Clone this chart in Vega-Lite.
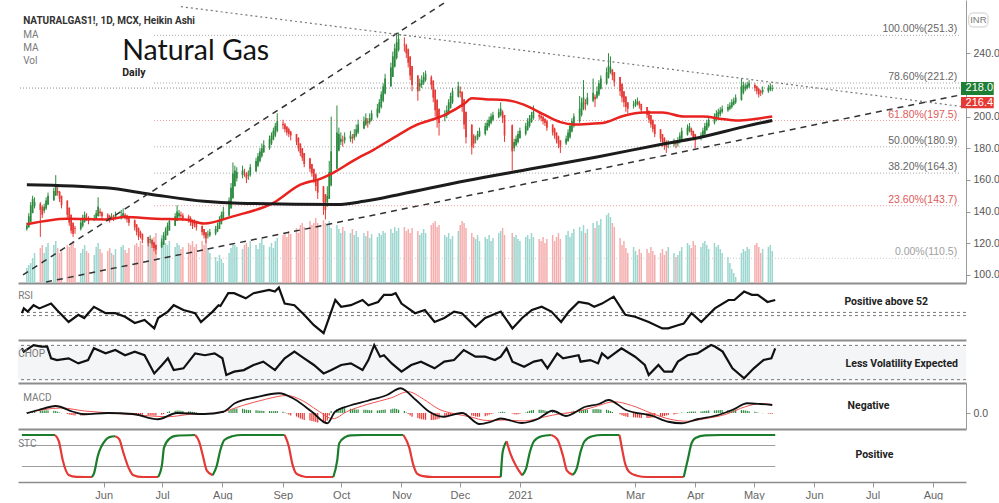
{
"$schema":"https://vega.github.io/schema/vega-lite/v6.json",
"padding":{"left":17,"top":0,"right":0,"bottom":0},
"background":"#ffffff",
"spacing":0,
"bounds":"flush",
"resolve":{"scale":{"x":"independent","y":"independent","color":"independent"}},
"config":{
 "view":{"stroke":null},
 "axis":{"grid":false,"labelColor":"#555555","labelFont":"Liberation Sans","labelFontSize":10.5,"domainColor":"#9a9a9a","tickColor":"#9a9a9a","tickSize":4,"labelPadding":3},
 "axisX":{"labels":false,"ticks":false,"domainColor":"#8c8c8c","domainWidth":2}
},
"datasets":{
"bars":[
{"d":"2020-04-20","o":129,"h":133,"l":128,"c":131,"v":15,"m":0.3},
{"d":"2020-04-21","o":130,"h":139,"l":130,"c":137,"v":18,"m":0.5},
{"d":"2020-04-22","o":133.5,"h":146,"l":133.5,"c":144,"v":20,"m":0.6},
{"d":"2020-04-23","o":139,"h":150,"l":139,"c":148,"v":25,"m":0.7},
{"d":"2020-04-24","o":143.5,"h":149,"l":142,"c":146,"v":30,"m":0.8},
{"d":"2020-04-27","o":145,"h":146,"l":124,"c":141,"v":35,"m":0.9},
{"d":"2020-04-28","o":143,"h":144,"l":136,"c":138,"v":38,"m":1.0},
{"d":"2020-04-29","o":140.5,"h":145,"l":139,"c":143,"v":30,"m":1.0},
{"d":"2020-04-30","o":142,"h":149,"l":141,"c":147,"v":36,"m":1.1},
{"d":"2020-05-01","o":144.5,"h":152,"l":144,"c":150,"v":40,"m":1.0},
{"d":"2020-05-04","o":147,"h":155,"l":147,"c":153,"v":38,"m":0.9},
{"d":"2020-05-05","o":150,"h":163,"l":150,"c":156,"v":42,"m":0.8},
{"d":"2020-05-06","o":153,"h":156,"l":150,"c":152,"v":35,"m":0.5},
{"d":"2020-05-07","o":152.5,"h":153,"l":146,"c":148,"v":30,"m":0.2},
{"d":"2020-05-08","o":150,"h":150,"l":142,"c":144,"v":33,"m":-0.1},
{"d":"2020-05-11","o":147,"h":147,"l":136,"c":138,"v":38,"m":-0.4},
{"d":"2020-05-12","o":142.5,"h":142.5,"l":131,"c":133,"v":36,"m":-0.6},
{"d":"2020-05-13","o":138,"h":138,"l":126,"c":128,"v":40,"m":-0.8},
{"d":"2020-05-14","o":133,"h":133,"l":124,"c":126,"v":42,"m":-0.9},
{"d":"2020-05-15","o":129.5,"h":131,"l":126,"c":129,"v":35,"m":-1.0},
{"d":"2020-05-18","o":129,"h":135,"l":128,"c":133,"v":30,"m":-1.0},
{"d":"2020-05-19","o":131,"h":138,"l":130,"c":136,"v":34,"m":-0.9},
{"d":"2020-05-20","o":133.5,"h":140,"l":133,"c":138,"v":38,"m":-0.8},
{"d":"2020-05-21","o":136,"h":139,"l":134,"c":135.5,"v":32,"m":-0.6},
{"d":"2020-05-22","o":136,"h":137,"l":132,"c":134,"v":30,"m":-0.5},
{"d":"2020-05-25","o":135,"h":138,"l":134,"c":136,"v":28,"m":-0.3},
{"d":"2020-05-26","o":135.5,"h":141,"l":135,"c":139,"v":36,"m":-0.1},
{"d":"2020-05-27","o":137,"h":149,"l":137,"c":143,"v":40,"m":0.1},
{"d":"2020-05-28","o":140,"h":142,"l":137,"c":139,"v":34,"m":0.1},
{"d":"2020-05-29","o":139.5,"h":140,"l":135,"c":137,"v":30,"m":0.0},
{"d":"2020-06-01","o":138,"h":139,"l":134,"c":136,"v":32,"m":0.0},
{"d":"2020-06-02","o":137,"h":138,"l":133,"c":135,"v":35,"m":0.1},
{"d":"2020-06-03","o":136,"h":139,"l":135,"c":137,"v":30,"m":0.1},
{"d":"2020-06-04","o":136.5,"h":138,"l":134,"c":136,"v":28,"m":0.0},
{"d":"2020-06-05","o":136,"h":140,"l":135,"c":138,"v":34,"m":0.0},
{"d":"2020-06-08","o":137,"h":141,"l":135,"c":137.5,"v":36,"m":0.1},
{"d":"2020-06-09","o":137,"h":142,"l":136,"c":139,"v":38,"m":0.0},
{"d":"2020-06-10","o":138,"h":139,"l":135,"c":137,"v":33,"m":-0.1},
{"d":"2020-06-11","o":137.5,"h":138,"l":133,"c":135,"v":30,"m":-0.2},
{"d":"2020-06-12","o":136,"h":137,"l":131,"c":133,"v":35,"m":-0.3},
{"d":"2020-06-15","o":134.5,"h":135,"l":128,"c":130,"v":38,"m":-0.4},
{"d":"2020-06-16","o":132,"h":132,"l":125,"c":127,"v":40,"m":-0.5},
{"d":"2020-06-17","o":129.5,"h":130,"l":122,"c":124,"v":36,"m":-0.6},
{"d":"2020-06-18","o":127,"h":128,"l":123,"c":125,"v":42,"m":-0.6},
{"d":"2020-06-19","o":126,"h":126,"l":120,"c":122,"v":38,"m":-0.7},
{"d":"2020-06-22","o":124,"h":124,"l":118,"c":120,"v":40,"m":-0.8},
{"d":"2020-06-23","o":122,"h":125,"l":120,"c":122.5,"v":44,"m":-0.8},
{"d":"2020-06-24","o":122,"h":123,"l":117,"c":119,"v":38,"m":-0.9},
{"d":"2020-06-25","o":120.5,"h":121,"l":115,"c":117,"v":46,"m":-1.0},
{"d":"2020-06-26","o":119,"h":119,"l":113,"c":116,"v":50,"m":-1.0},
{"d":"2020-06-29","o":117.5,"h":123,"l":117,"c":121,"v":48,"m":-0.7},
{"d":"2020-06-30","o":119,"h":127,"l":119,"c":125,"v":44,"m":-0.4},
{"d":"2020-07-01","o":122,"h":130,"l":122,"c":128,"v":40,"m":0.0},
{"d":"2020-07-02","o":125,"h":133,"l":125,"c":131,"v":38,"m":0.4},
{"d":"2020-07-03","o":128,"h":136,"l":128,"c":134,"v":42,"m":0.7},
{"d":"2020-07-06","o":131,"h":139,"l":131,"c":137,"v":36,"m":0.9},
{"d":"2020-07-07","o":134,"h":144,"l":134,"c":140,"v":40,"m":1.0},
{"d":"2020-07-08","o":137,"h":141,"l":136,"c":139,"v":38,"m":1.0},
{"d":"2020-07-09","o":138,"h":140,"l":135,"c":137,"v":34,"m":0.9},
{"d":"2020-07-10","o":137.5,"h":139,"l":134,"c":136,"v":36,"m":0.8},
{"d":"2020-07-13","o":137,"h":138,"l":133,"c":135,"v":40,"m":0.7},
{"d":"2020-07-14","o":136,"h":137,"l":131,"c":133,"v":38,"m":0.6},
{"d":"2020-07-15","o":134.5,"h":135,"l":129,"c":131,"v":42,"m":0.5},
{"d":"2020-07-16","o":133,"h":135,"l":130,"c":132,"v":36,"m":0.4},
{"d":"2020-07-17","o":132.5,"h":133,"l":128,"c":130,"v":39,"m":0.2},
{"d":"2020-07-20","o":131,"h":131,"l":125,"c":127,"v":42,"m":0.0},
{"d":"2020-07-21","o":129,"h":129,"l":123,"c":125,"v":38,"m":-0.2},
{"d":"2020-07-22","o":127,"h":127,"l":120,"c":123,"v":44,"m":-0.4},
{"d":"2020-07-23","o":125,"h":128,"l":123,"c":125.5,"v":35,"m":-0.4},
{"d":"2020-07-24","o":125,"h":129,"l":124,"c":127,"v":30,"m":-0.3},
{"d":"2020-07-27","o":126,"h":131,"l":125,"c":129,"v":26,"m":-0.2},
{"d":"2020-07-28","o":127.5,"h":133,"l":127,"c":131,"v":22,"m":-0.1},
{"d":"2020-07-29","o":129,"h":137,"l":129,"c":135,"v":28,"m":0.1},
{"d":"2020-07-30","o":132,"h":140,"l":132,"c":138,"v":24,"m":0.3},
{"d":"2020-07-31","o":135,"h":143,"l":135,"c":140,"v":20,"m":0.5},
{"d":"2020-08-03","o":137.5,"h":149,"l":137,"c":147,"v":30,"m":0.9},
{"d":"2020-08-04","o":142,"h":158,"l":142,"c":155,"v":35,"m":1.3},
{"d":"2020-08-05","o":148.5,"h":171,"l":148,"c":164,"v":40,"m":1.6},
{"d":"2020-08-06","o":156,"h":169,"l":156,"c":166,"v":38,"m":1.8},
{"d":"2020-08-07","o":161,"h":168,"l":159,"c":165,"v":36,"m":1.8},
{"d":"2020-08-10","o":163,"h":169,"l":161,"c":166,"v":34,"m":1.7},
{"d":"2020-08-11","o":164.5,"h":167,"l":162,"c":164,"v":38,"m":1.5},
{"d":"2020-08-12","o":164,"h":165,"l":158,"c":161,"v":40,"m":1.3},
{"d":"2020-08-13","o":162.5,"h":166,"l":160,"c":163,"v":36,"m":1.2},
{"d":"2020-08-14","o":163,"h":170,"l":162,"c":168,"v":42,"m":1.2},
{"d":"2020-08-17","o":165.5,"h":174,"l":165,"c":172,"v":38,"m":1.1},
{"d":"2020-08-18","o":169,"h":177,"l":168,"c":175,"v":34,"m":1.0},
{"d":"2020-08-19","o":172,"h":180,"l":171,"c":178,"v":40,"m":0.9},
{"d":"2020-08-20","o":175,"h":183,"l":174,"c":180,"v":44,"m":0.9},
{"d":"2020-08-21","o":177.5,"h":185,"l":177,"c":182,"v":38,"m":0.8},
{"d":"2020-08-24","o":180,"h":188,"l":179,"c":186,"v":36,"m":0.8},
{"d":"2020-08-25","o":183,"h":190,"l":182,"c":188,"v":40,"m":0.7},
{"d":"2020-08-26","o":185.5,"h":193,"l":185,"c":191,"v":35,"m":0.7},
{"d":"2020-08-27","o":188,"h":196,"l":187,"c":194,"v":42,"m":0.8},
{"d":"2020-08-28","o":191,"h":202,"l":190,"c":197,"v":45,"m":0.8},
{"d":"2020-08-31","o":195.5,"h":198,"l":192,"c":194.5,"v":48,"m":0.5},
{"d":"2020-09-01","o":195,"h":196,"l":190,"c":192,"v":50,"m":0.2},
{"d":"2020-09-02","o":193.5,"h":194,"l":188,"c":190,"v":46,"m":-0.2},
{"d":"2020-09-03","o":192,"h":193,"l":187,"c":189,"v":52,"m":-0.6},
{"d":"2020-09-04","o":190.5,"h":191,"l":185,"c":188,"v":49,"m":-1.0},
{"d":"2020-09-07","o":189,"h":189,"l":182,"c":184,"v":55,"m":-1.4},
{"d":"2020-09-08","o":186.5,"h":187,"l":178,"c":180,"v":50,"m":-1.8},
{"d":"2020-09-09","o":183,"h":183,"l":175,"c":177,"v":58,"m":-2.2},
{"d":"2020-09-10","o":180,"h":180,"l":172,"c":174,"v":60,"m":-2.5},
{"d":"2020-09-11","o":177,"h":177,"l":168,"c":170,"v":56,"m":-2.8},
{"d":"2020-09-14","o":173.5,"h":174,"l":165,"c":167,"v":62,"m":-3.0},
{"d":"2020-09-15","o":170,"h":170,"l":162,"c":164,"v":58,"m":-3.2},
{"d":"2020-09-16","o":167,"h":167,"l":158,"c":160,"v":60,"m":-3.4},
{"d":"2020-09-17","o":163.5,"h":164,"l":153,"c":156,"v":65,"m":-3.6},
{"d":"2020-09-18","o":160,"h":160,"l":148,"c":152,"v":60,"m":-3.8},
{"d":"2020-09-21","o":156,"h":156,"l":138,"c":146,"v":63,"m":-4.0},
{"d":"2020-09-22","o":151,"h":151,"l":135,"c":141,"v":60,"m":-4.2},
{"d":"2020-09-23","o":146,"h":156,"l":143,"c":150,"v":58,"m":-3.0},
{"d":"2020-09-24","o":148,"h":172,"l":148,"c":165,"v":62,"m":-1.0},
{"d":"2020-09-25","o":156.5,"h":200,"l":156,"c":178,"v":55,"m":0.8},
{"d":"2020-09-28","o":167,"h":207,"l":167,"c":190,"v":58,"m":1.6},
{"d":"2020-09-29","o":178.5,"h":193,"l":178,"c":189,"v":54,"m":1.8},
{"d":"2020-09-30","o":184,"h":190,"l":182,"c":186,"v":50,"m":2.0},
{"d":"2020-10-01","o":185,"h":188,"l":181,"c":184.5,"v":56,"m":2.0},
{"d":"2020-10-02","o":185,"h":190,"l":183,"c":187,"v":52,"m":1.9},
{"d":"2020-10-05","o":186,"h":191,"l":184,"c":188,"v":50,"m":1.7},
{"d":"2020-10-06","o":187,"h":189,"l":183,"c":186,"v":54,"m":1.6},
{"d":"2020-10-07","o":186.5,"h":192,"l":185,"c":189,"v":48,"m":1.5},
{"d":"2020-10-08","o":188,"h":195,"l":187,"c":192,"v":52,"m":1.4},
{"d":"2020-10-09","o":190,"h":198,"l":189,"c":195,"v":46,"m":1.4},
{"d":"2020-10-12","o":192.5,"h":200,"l":192,"c":197,"v":50,"m":1.3},
{"d":"2020-10-13","o":195,"h":202,"l":194,"c":199,"v":47,"m":1.3},
{"d":"2020-10-14","o":197,"h":199,"l":193,"c":196,"v":52,"m":1.2},
{"d":"2020-10-15","o":196.5,"h":202,"l":195,"c":199,"v":45,"m":1.1},
{"d":"2020-10-16","o":198,"h":204,"l":197,"c":202,"v":49,"m":1.1},
{"d":"2020-10-19","o":200,"h":208,"l":199,"c":205,"v":46,"m":1.0},
{"d":"2020-10-20","o":202.5,"h":211,"l":202,"c":209,"v":50,"m":1.1},
{"d":"2020-10-21","o":206,"h":216,"l":205,"c":214,"v":48,"m":1.2},
{"d":"2020-10-22","o":210,"h":221,"l":209,"c":219,"v":52,"m":1.3},
{"d":"2020-10-23","o":214.5,"h":227,"l":214,"c":224,"v":50,"m":1.4},
{"d":"2020-10-26","o":219,"h":234,"l":219,"c":231,"v":54,"m":1.5},
{"d":"2020-10-27","o":225,"h":241,"l":225,"c":238,"v":50,"m":1.7},
{"d":"2020-10-28","o":231.5,"h":246,"l":231,"c":243,"v":56,"m":1.8},
{"d":"2020-10-29","o":237,"h":252,"l":236,"c":247,"v":52,"m":1.6},
{"d":"2020-10-30","o":242,"h":253,"l":241,"c":249,"v":55,"m":1.3},
{"d":"2020-11-02","o":245.5,"h":250,"l":241,"c":245,"v":56,"m":0.8},
{"d":"2020-11-03","o":245,"h":246,"l":237,"c":240,"v":52,"m":0.2},
{"d":"2020-11-04","o":242.5,"h":243,"l":231,"c":234,"v":54,"m":-0.4},
{"d":"2020-11-05","o":238,"h":238,"l":223,"c":226,"v":50,"m":-1.0},
{"d":"2020-11-06","o":232,"h":232,"l":216,"c":220,"v":55,"m":-1.5},
{"d":"2020-11-09","o":226,"h":226,"l":210,"c":216,"v":52,"m":-2.0},
{"d":"2020-11-10","o":219,"h":224,"l":216,"c":221,"v":48,"m":-2.3},
{"d":"2020-11-11","o":220,"h":226,"l":218,"c":223,"v":50,"m":-2.5},
{"d":"2020-11-12","o":221.5,"h":228,"l":220,"c":225,"v":54,"m":-2.6},
{"d":"2020-11-13","o":223,"h":229,"l":222,"c":227,"v":50,"m":-2.7},
{"d":"2020-11-16","o":225,"h":226,"l":217,"c":220,"v":58,"m":-2.8},
{"d":"2020-11-17","o":222.5,"h":223,"l":209,"c":212,"v":60,"m":-2.8},
{"d":"2020-11-18","o":217,"h":217,"l":200,"c":204,"v":62,"m":-2.7},
{"d":"2020-11-19","o":210.5,"h":211,"l":193,"c":199,"v":56,"m":-2.5},
{"d":"2020-11-20","o":205,"h":205,"l":188,"c":196,"v":58,"m":-2.3},
{"d":"2020-11-23","o":200,"h":204,"l":197,"c":201,"v":48,"m":-2.0},
{"d":"2020-11-24","o":200.5,"h":207,"l":199,"c":204,"v":46,"m":-1.6},
{"d":"2020-11-25","o":202,"h":211,"l":201,"c":209,"v":50,"m":-1.2},
{"d":"2020-11-26","o":205.5,"h":215,"l":205,"c":213,"v":44,"m":-0.8},
{"d":"2020-11-27","o":209,"h":218,"l":208,"c":216,"v":47,"m":-0.4},
{"d":"2020-11-30","o":212.5,"h":222,"l":212,"c":219,"v":52,"m":0.0},
{"d":"2020-12-01","o":216,"h":219,"l":212,"c":215,"v":58,"m":0.3},
{"d":"2020-12-02","o":215.5,"h":216,"l":203,"c":206,"v":62,"m":0.2},
{"d":"2020-12-03","o":211,"h":211,"l":192,"c":195,"v":60,"m":-0.2},
{"d":"2020-12-04","o":203,"h":203,"l":183,"c":187,"v":55,"m":-0.6},
{"d":"2020-12-07","o":195,"h":195,"l":176,"c":181,"v":50,"m":-1.0},
{"d":"2020-12-08","o":188,"h":189,"l":180,"c":183,"v":46,"m":-1.2},
{"d":"2020-12-09","o":185.5,"h":188,"l":183,"c":186,"v":44,"m":-1.4},
{"d":"2020-12-10","o":186,"h":191,"l":185,"c":189,"v":48,"m":-1.5},
{"d":"2020-12-11","o":187.5,"h":193,"l":187,"c":191,"v":42,"m":-1.5},
{"d":"2020-12-14","o":189,"h":196,"l":188,"c":194,"v":46,"m":-1.3},
{"d":"2020-12-15","o":191.5,"h":198,"l":191,"c":196,"v":44,"m":-1.0},
{"d":"2020-12-16","o":194,"h":200,"l":193,"c":198,"v":48,"m":-0.7},
{"d":"2020-12-17","o":196,"h":202,"l":195,"c":200,"v":42,"m":-0.4},
{"d":"2020-12-18","o":198,"h":203,"l":197,"c":201,"v":45,"m":-0.2},
{"d":"2020-12-21","o":199.5,"h":205,"l":199,"c":203,"v":50,"m":0.2},
{"d":"2020-12-22","o":201,"h":209,"l":200,"c":205,"v":52,"m":0.4},
{"d":"2020-12-23","o":203,"h":204,"l":196,"c":199,"v":55,"m":0.5},
{"d":"2020-12-24","o":201,"h":201,"l":184,"c":188,"v":48,"m":0.3},
{"d":"2020-12-28","o":194.5,"h":195,"l":166,"c":178,"v":50,"m":-0.2},
{"d":"2020-12-29","o":180,"h":186,"l":178,"c":184,"v":46,"m":-0.5},
{"d":"2020-12-30","o":182,"h":188,"l":181,"c":186,"v":48,"m":-0.6},
{"d":"2020-12-31","o":184,"h":191,"l":183,"c":189,"v":44,"m":-0.5},
{"d":"2021-01-01","o":186.5,"h":193,"l":186,"c":191,"v":42,"m":-0.3},
{"d":"2021-01-04","o":189,"h":196,"l":188,"c":194,"v":46,"m":0.2},
{"d":"2021-01-05","o":191.5,"h":199,"l":191,"c":197,"v":48,"m":0.6},
{"d":"2021-01-06","o":194,"h":201,"l":193,"c":199,"v":44,"m":0.9},
{"d":"2021-01-07","o":196.5,"h":203,"l":196,"c":201,"v":50,"m":1.1},
{"d":"2021-01-08","o":199,"h":207,"l":198,"c":203,"v":46,"m":1.2},
{"d":"2021-01-11","o":201,"h":203,"l":198,"c":200,"v":44,"m":1.3},
{"d":"2021-01-12","o":200.5,"h":202,"l":197,"c":199,"v":42,"m":1.3},
{"d":"2021-01-13","o":200,"h":200,"l":195,"c":197,"v":46,"m":1.2},
{"d":"2021-01-14","o":198.5,"h":199,"l":194,"c":196,"v":40,"m":1.0},
{"d":"2021-01-15","o":197,"h":198,"l":191,"c":193,"v":44,"m":0.8},
{"d":"2021-01-18","o":195,"h":195,"l":188,"c":190,"v":48,"m":0.5},
{"d":"2021-01-19","o":192.5,"h":193,"l":186,"c":188,"v":42,"m":0.2},
{"d":"2021-01-20","o":190,"h":190,"l":183,"c":185,"v":46,"m":-0.1},
{"d":"2021-01-21","o":187.5,"h":188,"l":180,"c":183,"v":50,"m":-0.3},
{"d":"2021-01-22","o":185,"h":185,"l":177,"c":181,"v":44,"m":-0.4},
{"d":"2021-01-25","o":183,"h":188,"l":182,"c":186,"v":48,"m":-0.3},
{"d":"2021-01-26","o":184.5,"h":192,"l":184,"c":190,"v":52,"m":-0.1},
{"d":"2021-01-27","o":187,"h":196,"l":186,"c":194,"v":46,"m":0.3},
{"d":"2021-01-28","o":190.5,"h":199,"l":190,"c":197,"v":50,"m":0.6},
{"d":"2021-01-29","o":194,"h":202,"l":193,"c":200,"v":54,"m":0.9},
{"d":"2021-02-01","o":197,"h":213,"l":196,"c":205,"v":56,"m":1.1},
{"d":"2021-02-02","o":201,"h":212,"l":200,"c":209,"v":52,"m":1.2},
{"d":"2021-02-03","o":205,"h":223,"l":204,"c":212,"v":58,"m":1.3},
{"d":"2021-02-04","o":208.5,"h":211,"l":204,"c":208,"v":50,"m":1.4},
{"d":"2021-02-05","o":208,"h":215,"l":207,"c":212,"v":54,"m":1.4},
{"d":"2021-02-08","o":210,"h":224,"l":209,"c":215,"v":60,"m":1.5},
{"d":"2021-02-09","o":212.5,"h":214,"l":206,"c":211,"v":55,"m":1.5},
{"d":"2021-02-10","o":212,"h":219,"l":211,"c":216,"v":62,"m":1.6},
{"d":"2021-02-11","o":214,"h":223,"l":213,"c":221,"v":58,"m":1.5},
{"d":"2021-02-12","o":217.5,"h":226,"l":217,"c":224,"v":64,"m":1.4},
{"d":"2021-02-15","o":221,"h":231,"l":220,"c":228,"v":68,"m":1.3},
{"d":"2021-02-16","o":224.5,"h":240,"l":224,"c":232,"v":70,"m":1.1},
{"d":"2021-02-17","o":228,"h":238,"l":227,"c":231,"v":66,"m":0.8},
{"d":"2021-02-18","o":229.5,"h":230,"l":223,"c":226,"v":60,"m":0.4},
{"d":"2021-02-19","o":228,"h":228,"l":219,"c":222,"v":56,"m":0.0},
{"d":"2021-02-22","o":225,"h":225,"l":213,"c":216,"v":45,"m":-0.5},
{"d":"2021-02-23","o":220.5,"h":221,"l":209,"c":212,"v":38,"m":-0.9},
{"d":"2021-02-24","o":216,"h":216,"l":206,"c":209,"v":42,"m":-1.2},
{"d":"2021-02-25","o":212.5,"h":213,"l":203,"c":206,"v":35,"m":-1.4},
{"d":"2021-02-26","o":209,"h":209,"l":202,"c":205,"v":30,"m":-1.6},
{"d":"2021-03-01","o":207,"h":210,"l":205,"c":207.5,"v":36,"m":-1.7},
{"d":"2021-03-02","o":207,"h":211,"l":206,"c":209,"v":32,"m":-1.8},
{"d":"2021-03-03","o":208,"h":212,"l":207,"c":210,"v":28,"m":-1.8},
{"d":"2021-03-04","o":209,"h":210,"l":205,"c":207,"v":34,"m":-1.9},
{"d":"2021-03-05","o":208,"h":208,"l":202,"c":204,"v":30,"m":-2.0},
{"d":"2021-03-08","o":206,"h":206,"l":199,"c":201,"v":34,"m":-2.0},
{"d":"2021-03-09","o":203.5,"h":204,"l":196,"c":198,"v":30,"m":-2.0},
{"d":"2021-03-10","o":201,"h":201,"l":193,"c":195,"v":36,"m":-1.9},
{"d":"2021-03-11","o":198,"h":198,"l":190,"c":192,"v":32,"m":-1.8},
{"d":"2021-03-12","o":195,"h":195,"l":187,"c":189,"v":28,"m":-1.7},
{"d":"2021-03-15","o":192,"h":192,"l":184,"c":186,"v":30,"m":-1.5},
{"d":"2021-03-16","o":189,"h":189,"l":181,"c":184,"v":34,"m":-1.4},
{"d":"2021-03-17","o":186.5,"h":187,"l":179,"c":182,"v":28,"m":-1.2},
{"d":"2021-03-18","o":184,"h":185,"l":177,"c":181,"v":32,"m":-1.0},
{"d":"2021-03-19","o":182.5,"h":185,"l":180,"c":183,"v":36,"m":-0.8},
{"d":"2021-03-22","o":182.5,"h":186,"l":181,"c":184,"v":30,"m":-0.6},
{"d":"2021-03-23","o":183.5,"h":185,"l":180,"c":182.5,"v":26,"m":-0.4},
{"d":"2021-03-24","o":183,"h":187,"l":181,"c":185,"v":28,"m":-0.2},
{"d":"2021-03-25","o":184,"h":190,"l":183,"c":188,"v":32,"m":0.0},
{"d":"2021-03-26","o":186,"h":193,"l":185,"c":191,"v":36,"m":0.2},
{"d":"2021-03-29","o":188.5,"h":195,"l":188,"c":193,"v":40,"m":0.4},
{"d":"2021-03-30","o":191,"h":196,"l":190,"c":194,"v":38,"m":0.5},
{"d":"2021-03-31","o":192.5,"h":193,"l":188,"c":190,"v":35,"m":0.6},
{"d":"2021-04-01","o":191,"h":191,"l":185,"c":187,"v":42,"m":0.6},
{"d":"2021-04-02","o":189,"h":189,"l":180,"c":185,"v":38,"m":0.6},
{"d":"2021-04-05","o":187,"h":190,"l":185,"c":188,"v":36,"m":0.6},
{"d":"2021-04-06","o":187.5,"h":193,"l":187,"c":191,"v":40,"m":0.7},
{"d":"2021-04-07","o":189,"h":196,"l":188,"c":194,"v":42,"m":0.8},
{"d":"2021-04-08","o":191.5,"h":198,"l":191,"c":196,"v":38,"m":0.9},
{"d":"2021-04-09","o":194,"h":200,"l":193,"c":198,"v":34,"m":1.0},
{"d":"2021-04-12","o":196,"h":202,"l":195,"c":200,"v":40,"m":1.0},
{"d":"2021-04-13","o":198,"h":204,"l":197,"c":202,"v":36,"m":1.1},
{"d":"2021-04-14","o":200,"h":205,"l":199,"c":203,"v":38,"m":1.1},
{"d":"2021-04-15","o":201.5,"h":206,"l":200,"c":204,"v":34,"m":1.2},
{"d":"2021-04-16","o":203,"h":207,"l":202,"c":205,"v":30,"m":1.2},
{"d":"2021-04-19","o":204,"h":208,"l":203,"c":206,"v":26,"m":1.2},
{"d":"2021-04-20","o":205,"h":209,"l":204,"c":207,"v":20,"m":1.2},
{"d":"2021-04-21","o":206,"h":211,"l":205,"c":209,"v":14,"m":1.3},
{"d":"2021-04-22","o":207.5,"h":212,"l":207,"c":210,"v":10,"m":1.3},
{"d":"2021-04-23","o":209,"h":214,"l":208,"c":212,"v":6,"m":1.3},
{"d":"2021-04-26","o":210.5,"h":224,"l":210,"c":219,"v":30,"m":1.2},
{"d":"2021-04-27","o":215,"h":222,"l":214,"c":220,"v":34,"m":1.1},
{"d":"2021-04-28","o":217.5,"h":221,"l":216,"c":219,"v":32,"m":1.0},
{"d":"2021-04-29","o":218,"h":222,"l":217,"c":220,"v":36,"m":0.9},
{"d":"2021-04-30","o":219,"h":223,"l":218,"c":221,"v":34,"m":0.7},
{"d":"2021-05-03","o":220,"h":221,"l":216,"c":218,"v":38,"m":0.5},
{"d":"2021-05-04","o":219,"h":219.5,"l":214,"c":216,"v":40,"m":0.3},
{"d":"2021-05-05","o":217.5,"h":218,"l":212,"c":214,"v":36,"m":0.1},
{"d":"2021-05-06","o":216,"h":217,"l":213,"c":215,"v":30,"m":0.0},
{"d":"2021-05-07","o":215.5,"h":219,"l":214,"c":217,"v":34,"m":-0.1},
{"d":"2021-05-10","o":216,"h":220,"l":215,"c":218,"v":36,"m":-0.2},
{"d":"2021-05-11","o":217,"h":221,"l":216,"c":219,"v":38,"m":-0.3},
{"d":"2021-05-12","o":217.5,"h":220,"l":216,"c":218,"v":32,"m":-0.3}
],
"fib":[
{"lvl":"100.00%","p":251.3,"t":"100.00%(251.3)"},
{"lvl":"78.60%","p":221.2,"t":"78.60%(221.2)"},
{"lvl":"61.80%","p":197.5,"t":"61.80%(197.5)"},
{"lvl":"50.00%","p":180.9,"t":"50.00%(180.9)"},
{"lvl":"38.20%","p":164.3,"t":"38.20%(164.3)"},
{"lvl":"23.60%","p":143.7,"t":"23.60%(143.7)"},
{"lvl":"0.00%","p":110.5,"t":"0.00%(110.5)"}
],
"ma":[
{"k":"MA50","d":"2020-04-20","p":132},{"k":"MA50","d":"2020-05-11","p":135.5},{"k":"MA50","d":"2020-05-31","p":135},{"k":"MA50","d":"2020-06-10","p":136.5},{"k":"MA50","d":"2020-06-26","p":135.5},{"k":"MA50","d":"2020-07-11","p":135},{"k":"MA50","d":"2020-07-21","p":132.5},{"k":"MA50","d":"2020-08-05","p":137},{"k":"MA50","d":"2020-08-26","p":145.5},{"k":"MA50","d":"2020-09-09","p":157},{"k":"MA50","d":"2020-09-20","p":161},{"k":"MA50","d":"2020-09-26","p":164.5},{"k":"MA50","d":"2020-10-07","p":172.5},{"k":"MA50","d":"2020-10-17","p":179},{"k":"MA50","d":"2020-10-28","p":187},{"k":"MA50","d":"2020-11-07","p":194},{"k":"MA50","d":"2020-11-23","p":201},{"k":"MA50","d":"2020-12-03","p":208},{"k":"MA50","d":"2020-12-07","p":211.5},{"k":"MA50","d":"2020-12-14","p":211},{"k":"MA50","d":"2020-12-24","p":210.5},{"k":"MA50","d":"2021-01-03","p":207.5},{"k":"MA50","d":"2021-01-13","p":201.5},{"k":"MA50","d":"2021-01-22","p":196.5},{"k":"MA50","d":"2021-01-29","p":195},{"k":"MA50","d":"2021-02-07","p":195.5},{"k":"MA50","d":"2021-02-13","p":196},{"k":"MA50","d":"2021-02-24","p":200.5},{"k":"MA50","d":"2021-03-06","p":202.5},{"k":"MA50","d":"2021-03-16","p":202.5},{"k":"MA50","d":"2021-03-27","p":200},{"k":"MA50","d":"2021-04-06","p":200},{"k":"MA50","d":"2021-04-16","p":198.5},{"k":"MA50","d":"2021-04-24","p":197.5},{"k":"MA50","d":"2021-05-03","p":198.5},{"k":"MA50","d":"2021-05-12","p":200},
{"k":"MA200","d":"2020-04-20","p":157},{"k":"MA200","d":"2020-05-31","p":155},{"k":"MA200","d":"2020-06-23","p":151},{"k":"MA200","d":"2020-07-21","p":146.5},{"k":"MA200","d":"2020-08-08","p":145.3},{"k":"MA200","d":"2020-09-28","p":144.5},{"k":"MA200","d":"2020-10-12","p":146.5},{"k":"MA200","d":"2020-10-31","p":151},{"k":"MA200","d":"2020-12-04","p":159.5},{"k":"MA200","d":"2021-01-07","p":167},{"k":"MA200","d":"2021-02-10","p":174.5},{"k":"MA200","d":"2021-03-17","p":182.8},{"k":"MA200","d":"2021-04-06","p":187.2},{"k":"MA200","d":"2021-04-27","p":193.5},{"k":"MA200","d":"2021-05-12","p":197.5}
],
"tl":[
{"id":"up","d":"2020-04-18","p":100.1},{"id":"up","d":"2020-11-23","p":272},
{"id":"low","d":"2020-04-30","p":95.5},{"id":"low","d":"2021-08-18","p":213.7},
{"id":"desc","d":"2020-07-09","p":269.4},{"id":"desc","d":"2021-08-18","p":206.4}
],
"rsi":[
{"d":"2020-04-20","v":51},{"d":"2020-04-21","v":57},{"d":"2020-04-23","v":53},{"d":"2020-04-26","v":61},{"d":"2020-04-29","v":57},{"d":"2020-05-05","v":63},{"d":"2020-05-08","v":55},{"d":"2020-05-14","v":40},{"d":"2020-05-19","v":49},{"d":"2020-05-22","v":45},{"d":"2020-05-27","v":59},{"d":"2020-06-02","v":51},{"d":"2020-06-07","v":51},{"d":"2020-06-12","v":46.6},{"d":"2020-06-17","v":38.7},{"d":"2020-06-22","v":42.5},{"d":"2020-06-27","v":32},{"d":"2020-06-29","v":45},{"d":"2020-07-04","v":53},{"d":"2020-07-07","v":61},{"d":"2020-07-12","v":55},{"d":"2020-07-18","v":51},{"d":"2020-07-21","v":40},{"d":"2020-07-27","v":53},{"d":"2020-07-30","v":61},{"d":"2020-07-31","v":60},{"d":"2020-08-04","v":76},{"d":"2020-08-07","v":76},{"d":"2020-08-13","v":69.6},{"d":"2020-08-17","v":76},{"d":"2020-08-25","v":80},{"d":"2020-08-28","v":78},{"d":"2020-08-30","v":83},{"d":"2020-09-02","v":63},{"d":"2020-09-07","v":61},{"d":"2020-09-12","v":49},{"d":"2020-09-17","v":36},{"d":"2020-09-22","v":26},{"d":"2020-09-25","v":46.6},{"d":"2020-09-28","v":67.5},{"d":"2020-10-01","v":59},{"d":"2020-10-06","v":61},{"d":"2020-10-12","v":67.5},{"d":"2020-10-15","v":61},{"d":"2020-10-20","v":65},{"d":"2020-10-23","v":74},{"d":"2020-10-27","v":74},{"d":"2020-10-29","v":76},{"d":"2020-11-01","v":63},{"d":"2020-11-08","v":51},{"d":"2020-11-13","v":55},{"d":"2020-11-18","v":40},{"d":"2020-11-23","v":45},{"d":"2020-11-28","v":53},{"d":"2020-12-02","v":51},{"d":"2020-12-09","v":34},{"d":"2020-12-14","v":45},{"d":"2020-12-22","v":53},{"d":"2020-12-28","v":32},{"d":"2021-01-02","v":45},{"d":"2021-01-07","v":55},{"d":"2021-01-12","v":59},{"d":"2021-01-17","v":53},{"d":"2021-01-22","v":40},{"d":"2021-01-26","v":53},{"d":"2021-01-31","v":65},{"d":"2021-02-05","v":63},{"d":"2021-02-08","v":59},{"d":"2021-02-12","v":63},{"d":"2021-02-18","v":71.7},{"d":"2021-02-24","v":49},{"d":"2021-03-01","v":46.6},{"d":"2021-03-08","v":40},{"d":"2021-03-15","v":32},{"d":"2021-03-18","v":32},{"d":"2021-03-23","v":36},{"d":"2021-03-26","v":38},{"d":"2021-03-30","v":51},{"d":"2021-04-04","v":40},{"d":"2021-04-11","v":57},{"d":"2021-04-18","v":67.5},{"d":"2021-04-21","v":67.5},{"d":"2021-04-26","v":78},{"d":"2021-04-30","v":74},{"d":"2021-05-03","v":74},{"d":"2021-05-08","v":65},{"d":"2021-05-12","v":67.5}
],
"chop":[
{"d":"2020-04-20","v":59.8},{"d":"2020-04-21","v":57.5},{"d":"2020-04-26","v":62},{"d":"2020-04-30","v":61},{"d":"2020-05-03","v":61},{"d":"2020-05-05","v":52.9},{"d":"2020-05-08","v":51.7},{"d":"2020-05-14","v":52.9},{"d":"2020-05-19","v":49.4},{"d":"2020-05-24","v":51.7},{"d":"2020-05-27","v":59.8},{"d":"2020-06-02","v":56.3},{"d":"2020-06-07","v":58.6},{"d":"2020-06-12","v":55},{"d":"2020-06-17","v":57.5},{"d":"2020-06-22","v":55},{"d":"2020-06-27","v":42.5},{"d":"2020-07-01","v":48.3},{"d":"2020-07-04","v":52.9},{"d":"2020-07-07","v":44.8},{"d":"2020-07-12","v":46},{"d":"2020-07-18","v":56.3},{"d":"2020-07-23","v":55},{"d":"2020-07-28","v":56.3},{"d":"2020-08-01","v":52.9},{"d":"2020-08-03","v":41.4},{"d":"2020-08-07","v":43.7},{"d":"2020-08-12","v":44.8},{"d":"2020-08-17","v":48.3},{"d":"2020-08-22","v":50.6},{"d":"2020-08-28","v":44.8},{"d":"2020-09-02","v":52.9},{"d":"2020-09-07","v":57.5},{"d":"2020-09-12","v":52.9},{"d":"2020-09-17","v":48.3},{"d":"2020-09-22","v":42.5},{"d":"2020-09-26","v":44.8},{"d":"2020-10-01","v":48.3},{"d":"2020-10-06","v":49.4},{"d":"2020-10-12","v":44.8},{"d":"2020-10-15","v":51.7},{"d":"2020-10-18","v":62},{"d":"2020-10-21","v":54},{"d":"2020-10-23","v":55},{"d":"2020-10-27","v":49.4},{"d":"2020-11-01","v":43.7},{"d":"2020-11-06","v":48.3},{"d":"2020-11-11","v":50.6},{"d":"2020-11-18","v":46},{"d":"2020-11-23","v":50.6},{"d":"2020-11-28","v":51.7},{"d":"2020-12-03","v":58.6},{"d":"2020-12-09","v":54},{"d":"2020-12-14","v":54},{"d":"2020-12-19","v":51.7},{"d":"2020-12-22","v":54},{"d":"2020-12-25","v":59.8},{"d":"2020-12-28","v":50.6},{"d":"2021-01-03","v":47.1},{"d":"2021-01-08","v":50.6},{"d":"2021-01-12","v":51.7},{"d":"2021-01-15","v":46},{"d":"2021-01-20","v":56.3},{"d":"2021-01-23","v":52.9},{"d":"2021-01-31","v":55},{"d":"2021-02-01","v":50.6},{"d":"2021-02-06","v":51.7},{"d":"2021-02-10","v":49.4},{"d":"2021-02-12","v":56.3},{"d":"2021-02-15","v":52.9},{"d":"2021-02-22","v":59.8},{"d":"2021-03-01","v":54},{"d":"2021-03-06","v":48.3},{"d":"2021-03-08","v":41.4},{"d":"2021-03-13","v":48.3},{"d":"2021-03-16","v":43.7},{"d":"2021-03-20","v":43.7},{"d":"2021-03-23","v":50.6},{"d":"2021-03-28","v":55},{"d":"2021-04-02","v":56.3},{"d":"2021-04-09","v":62},{"d":"2021-04-11","v":61},{"d":"2021-04-15","v":57.5},{"d":"2021-04-20","v":46},{"d":"2021-04-26","v":39.1},{"d":"2021-05-01","v":46},{"d":"2021-05-06","v":51.7},{"d":"2021-05-10","v":52.9},{"d":"2021-05-12","v":59.8}
],
"macd":[
{"d":"2020-04-20","v":-0.1},{"d":"2020-04-26","v":1.2},{"d":"2020-05-05","v":2.8},{"d":"2020-05-14","v":0.5},{"d":"2020-05-20","v":-0.5},{"d":"2020-06-01","v":0},{"d":"2020-06-14","v":-0.4},{"d":"2020-06-27","v":-2.5},{"d":"2020-07-07","v":0},{"d":"2020-07-21","v":-0.4},{"d":"2020-07-31","v":0.5},{"d":"2020-08-06","v":3.9},{"d":"2020-08-17","v":6.3},{"d":"2020-08-29","v":7.9},{"d":"2020-09-06","v":5.5},{"d":"2020-09-15","v":0.5},{"d":"2020-09-23","v":-4.1},{"d":"2020-09-27","v":0.5},{"d":"2020-10-04","v":2.8},{"d":"2020-10-14","v":4.9},{"d":"2020-10-24","v":7.2},{"d":"2020-10-31","v":9.9},{"d":"2020-11-08","v":5.2},{"d":"2020-11-15","v":0.5},{"d":"2020-11-22","v":-1.5},{"d":"2020-12-02","v":0},{"d":"2020-12-11","v":-4.4},{"d":"2020-12-17","v":-3.5},{"d":"2020-12-22","v":-2.2},{"d":"2021-01-02","v":-4.0},{"d":"2021-01-10","v":-2.5},{"d":"2021-01-18","v":0.9},{"d":"2021-01-25","v":-1.2},{"d":"2021-02-04","v":2.5},{"d":"2021-02-11","v":3.6},{"d":"2021-02-16","v":5.2},{"d":"2021-02-25","v":1.2},{"d":"2021-03-11","v":-1.2},{"d":"2021-03-19","v":-3.5},{"d":"2021-03-26","v":-4.1},{"d":"2021-04-03","v":-2.5},{"d":"2021-04-14","v":-0.8},{"d":"2021-04-22","v":1.5},{"d":"2021-04-29","v":3.9},{"d":"2021-05-06","v":3.6},{"d":"2021-05-12","v":3.2}
],
"sig":[
{"d":"2020-04-20","v":0},{"d":"2020-05-08","v":2.0},{"d":"2020-05-20","v":0.8},{"d":"2020-06-03","v":0},{"d":"2020-06-20","v":-1},{"d":"2020-07-02","v":-1.5},{"d":"2020-07-14","v":-0.5},{"d":"2020-07-28","v":0},{"d":"2020-08-10","v":3},{"d":"2020-08-22","v":5.5},{"d":"2020-09-02","v":7},{"d":"2020-09-10","v":5},{"d":"2020-09-18","v":1},{"d":"2020-09-26","v":-2.3},{"d":"2020-10-03","v":0.5},{"d":"2020-10-14","v":3.5},{"d":"2020-10-26","v":6},{"d":"2020-11-04","v":8.5},{"d":"2020-11-12","v":5.5},{"d":"2020-11-20","v":1.5},{"d":"2020-11-28","v":-0.3},{"d":"2020-12-06","v":-1.5},{"d":"2020-12-15","v":-3},{"d":"2020-12-24","v":-2.8},{"d":"2021-01-03","v":-3.2},{"d":"2021-01-14","v":-1.5},{"d":"2021-01-22","v":-0.3},{"d":"2021-01-30","v":0.5},{"d":"2021-02-08","v":2.3},{"d":"2021-02-19","v":4.5},{"d":"2021-02-28","v":3},{"d":"2021-03-10","v":0},{"d":"2021-03-20","v":-2.5},{"d":"2021-03-29","v":-3.3},{"d":"2021-04-07","v":-2.3},{"d":"2021-04-18","v":-0.5},{"d":"2021-04-28","v":2.5},{"d":"2021-05-06","v":3.8},{"d":"2021-05-12","v":3.4}
],
"stc":[
{"s":1,"dir":"up","d":"2020-04-20","v":100},{"s":1,"dir":"up","d":"2020-05-07","v":100},
{"s":2,"dir":"down","d":"2020-05-07","v":100},{"s":2,"dir":"down","d":"2020-05-09","v":85},{"s":2,"dir":"down","d":"2020-05-11","v":40},{"s":2,"dir":"down","d":"2020-05-14","v":5},{"s":2,"dir":"down","d":"2020-05-18","v":0.5},{"s":2,"dir":"down","d":"2020-05-26","v":0},
{"s":3,"dir":"up","d":"2020-05-26","v":0},{"s":3,"dir":"up","d":"2020-05-27","v":8},{"s":3,"dir":"up","d":"2020-05-29","v":50},{"s":3,"dir":"up","d":"2020-06-02","v":88},{"s":3,"dir":"up","d":"2020-06-04","v":95},{"s":3,"dir":"up","d":"2020-06-07","v":97},
{"s":4,"dir":"down","d":"2020-06-07","v":97},{"s":4,"dir":"down","d":"2020-06-09","v":90},{"s":4,"dir":"down","d":"2020-06-11","v":60},{"s":4,"dir":"down","d":"2020-06-14","v":20},{"s":4,"dir":"down","d":"2020-06-16","v":5},{"s":4,"dir":"down","d":"2020-06-21","v":0},{"s":4,"dir":"down","d":"2020-06-29","v":0},
{"s":5,"dir":"up","d":"2020-06-29","v":0},{"s":5,"dir":"up","d":"2020-07-01","v":30},{"s":5,"dir":"up","d":"2020-07-02","v":70},{"s":5,"dir":"up","d":"2020-07-05","v":92},{"s":5,"dir":"up","d":"2020-07-08","v":98},{"s":5,"dir":"up","d":"2020-07-18","v":100},
{"s":6,"dir":"down","d":"2020-07-18","v":100},{"s":6,"dir":"down","d":"2020-07-20","v":85},{"s":6,"dir":"down","d":"2020-07-22","v":50},{"s":6,"dir":"down","d":"2020-07-24","v":15},{"s":6,"dir":"down","d":"2020-07-27","v":4},
{"s":7,"dir":"up","d":"2020-07-27","v":4},{"s":7,"dir":"up","d":"2020-07-29","v":25},{"s":7,"dir":"up","d":"2020-07-31","v":65},{"s":7,"dir":"up","d":"2020-08-02","v":88},{"s":7,"dir":"up","d":"2020-08-06","v":97},{"s":7,"dir":"up","d":"2020-08-11","v":100},{"s":7,"dir":"up","d":"2020-09-02","v":100},
{"s":8,"dir":"down","d":"2020-09-02","v":100},{"s":8,"dir":"down","d":"2020-09-04","v":75},{"s":8,"dir":"down","d":"2020-09-06","v":30},{"s":8,"dir":"down","d":"2020-09-08","v":8},{"s":8,"dir":"down","d":"2020-09-11","v":2},{"s":8,"dir":"down","d":"2020-09-13","v":0},{"s":8,"dir":"down","d":"2020-09-27","v":0},
{"s":9,"dir":"up","d":"2020-09-27","v":0},{"s":9,"dir":"up","d":"2020-09-29","v":40},{"s":9,"dir":"up","d":"2020-09-30","v":80},{"s":9,"dir":"up","d":"2020-10-03","v":95},{"s":9,"dir":"up","d":"2020-10-06","v":99},{"s":9,"dir":"up","d":"2020-10-12","v":100},{"s":9,"dir":"up","d":"2020-11-02","v":100},
{"s":10,"dir":"down","d":"2020-11-02","v":100},{"s":10,"dir":"down","d":"2020-11-05","v":70},{"s":10,"dir":"down","d":"2020-11-07","v":30},{"s":10,"dir":"down","d":"2020-11-09","v":8},{"s":10,"dir":"down","d":"2020-11-12","v":2},{"s":10,"dir":"down","d":"2020-11-17","v":0},{"s":10,"dir":"down","d":"2020-12-22","v":0},
{"s":11,"dir":"up","d":"2020-12-22","v":0},{"s":11,"dir":"up","d":"2020-12-23","v":60},{"s":11,"dir":"up","d":"2020-12-25","v":85},
{"s":12,"dir":"down","d":"2020-12-25","v":85},{"s":12,"dir":"down","d":"2020-12-27","v":55},{"s":12,"dir":"down","d":"2020-12-30","v":25},{"s":12,"dir":"down","d":"2021-01-02","v":4},
{"s":13,"dir":"up","d":"2021-01-02","v":4},{"s":13,"dir":"up","d":"2021-01-04","v":20},{"s":13,"dir":"up","d":"2021-01-06","v":60},{"s":13,"dir":"up","d":"2021-01-08","v":85},{"s":13,"dir":"up","d":"2021-01-12","v":97},{"s":13,"dir":"up","d":"2021-01-17","v":100},
{"s":14,"dir":"down","d":"2021-01-17","v":100},{"s":14,"dir":"down","d":"2021-01-20","v":90},{"s":14,"dir":"down","d":"2021-01-23","v":50},{"s":14,"dir":"down","d":"2021-01-25","v":15},{"s":14,"dir":"down","d":"2021-01-28","v":5},
{"s":15,"dir":"up","d":"2021-01-28","v":5},{"s":15,"dir":"up","d":"2021-01-30","v":20},{"s":15,"dir":"up","d":"2021-02-01","v":60},{"s":15,"dir":"up","d":"2021-02-03","v":85},{"s":15,"dir":"up","d":"2021-02-07","v":97},{"s":15,"dir":"up","d":"2021-02-12","v":100},{"s":15,"dir":"up","d":"2021-02-21","v":100},
{"s":16,"dir":"down","d":"2021-02-21","v":100},{"s":16,"dir":"down","d":"2021-02-22","v":75},{"s":16,"dir":"down","d":"2021-02-24","v":30},{"s":16,"dir":"down","d":"2021-02-26","v":12},{"s":16,"dir":"down","d":"2021-03-02","v":3},{"s":16,"dir":"down","d":"2021-03-07","v":0},{"s":16,"dir":"down","d":"2021-03-26","v":0},
{"s":17,"dir":"up","d":"2021-03-26","v":0},{"s":17,"dir":"up","d":"2021-03-28","v":40},{"s":17,"dir":"up","d":"2021-03-30","v":80},{"s":17,"dir":"up","d":"2021-04-01","v":93},{"s":17,"dir":"up","d":"2021-04-06","v":99},{"s":17,"dir":"up","d":"2021-04-14","v":100},{"s":17,"dir":"up","d":"2021-05-12","v":100}
]
},
"vconcat":[
{
 "width":948,"height":283,
 "resolve":{"scale":{"y":"independent","color":"independent"}},
 "layer":[
  {"data":{"name":"bars"},"mark":{"type":"bar","size":1.5},
   "encoding":{"x":{"field":"d","type":"temporal","title":null,"scale":{"type":"utc","domain":[{"year":2020,"month":4,"date":18,"utc":true},{"year":2021,"month":8,"date":18,"utc":true}]}},
    "y":{"field":"v","type":"quantitative","scale":{"domain":[0,283],"nice":false},"axis":null},
    "color":{"condition":{"test":"datum.c >= datum.o","value":"#9bd6cf"},"value":"#f6adad"}}},
  {"data":{"name":"fib"},"mark":{"type":"rule","strokeDash":[1,2],"strokeWidth":1},
   "encoding":{"x":{"datum":{"year":2020,"month":6,"date":25,"utc":true},"type":"temporal","title":null,"scale":{"type":"utc","domain":[{"year":2020,"month":4,"date":18,"utc":true},{"year":2021,"month":8,"date":18,"utc":true}]}},
    "x2":{"datum":{"year":2021,"month":8,"date":18,"utc":true}},
    "y":{"field":"p","type":"quantitative","scale":{"domain":[94.9,273.6],"nice":false,"zero":false},"axis":null},
    "color":{"field":"lvl","type":"nominal","legend":null,"scale":{"domain":["100.00%","78.60%","61.80%","50.00%","38.20%","23.60%","0.00%"],"range":["#a8a8a8","#a8a8a8","#f0a0a0","#a8a8a8","#a8a8a8","#f0a0a0","#cccccc"]}}}},
  {"data":{"name":"fib"},"mark":{"type":"text","align":"right","baseline":"alphabetic","dy":-3,"fontSize":10.5,"font":"Liberation Sans"},
   "encoding":{"x":{"datum":{"year":2021,"month":8,"date":16,"utc":true},"type":"temporal","title":null,"scale":{"type":"utc","domain":[{"year":2020,"month":4,"date":18,"utc":true},{"year":2021,"month":8,"date":18,"utc":true}]}},
    "y":{"field":"p","type":"quantitative","scale":{"domain":[94.9,273.6],"nice":false,"zero":false},"axis":null},
    "text":{"field":"t"},
    "color":{"field":"lvl","type":"nominal","legend":null,"scale":{"domain":["100.00%","78.60%","61.80%","50.00%","38.20%","23.60%","0.00%"],"range":["#666666","#666666","#e05a5a","#666666","#666666","#e05a5a","#a0a0a0"]}}}},
  {"data":{"values":[{}]},"mark":{"type":"rule","strokeDash":[1,2],"color":"#8a8a8a","strokeWidth":1},
   "encoding":{"y":{"datum":218,"type":"quantitative","scale":{"domain":[94.9,273.6],"nice":false,"zero":false},"axis":null}}},
  {"data":{"name":"bars"},"mark":{"type":"rule","strokeWidth":1},
   "encoding":{"x":{"field":"d","type":"temporal","title":null,"scale":{"type":"utc","domain":[{"year":2020,"month":4,"date":18,"utc":true},{"year":2021,"month":8,"date":18,"utc":true}]}},
    "y":{"field":"l","type":"quantitative","scale":{"domain":[94.9,273.6],"nice":false,"zero":false},"axis":null},
    "y2":{"field":"h"},
    "color":{"condition":{"test":"datum.c >= datum.o","value":"#2b8a3e"},"value":"#e53935"}}},
  {"data":{"name":"bars"},"mark":{"type":"bar","size":1.7},
   "encoding":{"x":{"field":"d","type":"temporal","title":null,"scale":{"type":"utc","domain":[{"year":2020,"month":4,"date":18,"utc":true},{"year":2021,"month":8,"date":18,"utc":true}]}},
    "y":{"field":"o","type":"quantitative","title":null,"scale":{"domain":[94.9,273.6],"nice":false,"zero":false},"axis":{"orient":"right","values":[100,120,140,160,180,200,240],"format":".1f"}},
    "y2":{"field":"c"},
    "color":{"condition":{"test":"datum.c >= datum.o","value":"#2b8a3e"},"value":"#e53935"}}},
  {"data":{"name":"ma"},"transform":[{"filter":"datum.k == 'MA50'"}],"mark":{"type":"line","color":"#e8231f","strokeWidth":2.5,"interpolate":"monotone"},
   "encoding":{"x":{"field":"d","type":"temporal","title":null,"scale":{"type":"utc","domain":[{"year":2020,"month":4,"date":18,"utc":true},{"year":2021,"month":8,"date":18,"utc":true}]}},
    "y":{"field":"p","type":"quantitative","scale":{"domain":[94.9,273.6],"nice":false,"zero":false},"axis":null}}},
  {"data":{"name":"ma"},"transform":[{"filter":"datum.k == 'MA200'"}],"mark":{"type":"line","color":"#1c1c1c","strokeWidth":3,"interpolate":"monotone"},
   "encoding":{"x":{"field":"d","type":"temporal","title":null,"scale":{"type":"utc","domain":[{"year":2020,"month":4,"date":18,"utc":true},{"year":2021,"month":8,"date":18,"utc":true}]}},
    "y":{"field":"p","type":"quantitative","scale":{"domain":[94.9,273.6],"nice":false,"zero":false},"axis":null}}},
  {"data":{"name":"tl"},"transform":[{"filter":"datum.id != 'desc'"}],"mark":{"type":"line","color":"#333333","strokeWidth":1.5,"strokeDash":[6,5],"clip":true},
   "encoding":{"x":{"field":"d","type":"temporal","title":null,"scale":{"type":"utc","domain":[{"year":2020,"month":4,"date":18,"utc":true},{"year":2021,"month":8,"date":18,"utc":true}]}},
    "y":{"field":"p","type":"quantitative","scale":{"domain":[94.9,273.6],"nice":false,"zero":false},"axis":null},
    "detail":{"field":"id"}}},
  {"data":{"name":"tl"},"transform":[{"filter":"datum.id == 'desc'"}],"mark":{"type":"line","color":"#777777","strokeWidth":1.2,"strokeDash":[2,3],"clip":true},
   "encoding":{"x":{"field":"d","type":"temporal","title":null,"scale":{"type":"utc","domain":[{"year":2020,"month":4,"date":18,"utc":true},{"year":2021,"month":8,"date":18,"utc":true}]}},
    "y":{"field":"p","type":"quantitative","scale":{"domain":[94.9,273.6],"nice":false,"zero":false},"axis":null}}},
  {"data":{"values":[{}]},"mark":{"type":"text","align":"left","baseline":"alphabetic","fontSize":10,"fontWeight":"bold","color":"#333333","font":"Roboto, sans-serif","text":"NATURALGAS1!, 1D, MCX, Heikin Ashi"},
   "encoding":{"x":{"datum":{"year":2020,"month":4,"date":18,"hours":2,"utc":true},"type":"temporal","title":null,"scale":{"type":"utc","domain":[{"year":2020,"month":4,"date":18,"utc":true},{"year":2021,"month":8,"date":18,"utc":true}]}},
    "y":{"datum":258.2,"type":"quantitative","scale":{"domain":[94.9,273.6],"nice":false,"zero":false},"axis":null}}},
  {"data":{"values":[{}]},"mark":{"type":"text","align":"left","baseline":"alphabetic","fontSize":10,"lineHeight":13,"color":"#7a7a7a","font":"Roboto, sans-serif","text":["MA","MA","Vol"]},
   "encoding":{"x":{"datum":{"year":2020,"month":4,"date":18,"hours":2,"utc":true},"type":"temporal","title":null,"scale":{"type":"utc","domain":[{"year":2020,"month":4,"date":18,"utc":true},{"year":2021,"month":8,"date":18,"utc":true}]}},
    "y":{"datum":249.3,"type":"quantitative","scale":{"domain":[94.9,273.6],"nice":false,"zero":false},"axis":null}}},
  {"data":{"values":[{}]},"mark":{"type":"text","align":"left","baseline":"alphabetic","fontSize":28.5,"color":"#141414","font":"Lato","text":"Natural Gas"},
   "encoding":{"x":{"datum":{"year":2020,"month":6,"date":8,"hours":12,"utc":true},"type":"temporal","title":null,"scale":{"type":"utc","domain":[{"year":2020,"month":4,"date":18,"utc":true},{"year":2021,"month":8,"date":18,"utc":true}]}},
    "y":{"datum":235.8,"type":"quantitative","scale":{"domain":[94.9,273.6],"nice":false,"zero":false},"axis":null}}},
  {"data":{"values":[{}]},"mark":{"type":"text","align":"left","baseline":"alphabetic","fontSize":10.5,"fontWeight":"bold","color":"#222222","font":"Roboto, sans-serif","text":"Daily"},
   "encoding":{"x":{"datum":{"year":2020,"month":6,"date":8,"hours":12,"utc":true},"type":"temporal","title":null,"scale":{"type":"utc","domain":[{"year":2020,"month":4,"date":18,"utc":true},{"year":2021,"month":8,"date":18,"utc":true}]}},
    "y":{"datum":225.7,"type":"quantitative","scale":{"domain":[94.9,273.6],"nice":false,"zero":false},"axis":null}}},
  {"data":{"values":[{}]},"mark":{"type":"rect","color":"#1e7e34"},
   "encoding":{"x":{"datum":{"year":2021,"month":8,"date":18,"utc":true},"type":"temporal","title":null,"scale":{"type":"utc","domain":[{"year":2020,"month":4,"date":18,"utc":true},{"year":2021,"month":8,"date":18,"utc":true}]}},
    "x2":{"datum":{"year":2021,"month":9,"date":4,"utc":true}},
    "y":{"datum":213.6,"type":"quantitative","scale":{"domain":[94.9,273.6],"nice":false,"zero":false},"axis":null},
    "y2":{"datum":221.9}}},
  {"data":{"values":[{}]},"mark":{"type":"rect","color":"#e53935"},
   "encoding":{"x":{"datum":{"year":2021,"month":8,"date":18,"utc":true},"type":"temporal","title":null,"scale":{"type":"utc","domain":[{"year":2020,"month":4,"date":18,"utc":true},{"year":2021,"month":8,"date":18,"utc":true}]}},
    "x2":{"datum":{"year":2021,"month":9,"date":4,"utc":true}},
    "y":{"datum":205.2,"type":"quantitative","scale":{"domain":[94.9,273.6],"nice":false,"zero":false},"axis":null},
    "y2":{"datum":212.3}}},
  {"data":{"values":[{}]},"mark":{"type":"rect","fill":"#ffffff","stroke":"#cccccc","strokeWidth":1,"cornerRadius":4},
   "encoding":{"x":{"datum":{"year":2021,"month":8,"date":22,"utc":true},"type":"temporal","title":null,"scale":{"type":"utc","domain":[{"year":2020,"month":4,"date":18,"utc":true},{"year":2021,"month":8,"date":18,"utc":true}]}},
    "x2":{"datum":{"year":2021,"month":9,"date":1,"utc":true}},
    "y":{"datum":256.6,"type":"quantitative","scale":{"domain":[94.9,273.6],"nice":false,"zero":false},"axis":null},
    "y2":{"datum":265.4}}},
  {"data":{"values":[{}]},"mark":{"type":"text","align":"center","baseline":"middle","fontSize":11,"color":"#ffffff","font":"Liberation Sans","text":"218.0"},
   "encoding":{"x":{"datum":{"year":2021,"month":8,"date":27,"hours":12,"utc":true},"type":"temporal","title":null,"scale":{"type":"utc","domain":[{"year":2020,"month":4,"date":18,"utc":true},{"year":2021,"month":8,"date":18,"utc":true}]}},
    "y":{"datum":217.8,"type":"quantitative","scale":{"domain":[94.9,273.6],"nice":false,"zero":false},"axis":null}}},
  {"data":{"values":[{}]},"mark":{"type":"text","align":"center","baseline":"middle","fontSize":11,"color":"#ffffff","font":"Liberation Sans","text":"216.4"},
   "encoding":{"x":{"datum":{"year":2021,"month":8,"date":27,"hours":12,"utc":true},"type":"temporal","title":null,"scale":{"type":"utc","domain":[{"year":2020,"month":4,"date":18,"utc":true},{"year":2021,"month":8,"date":18,"utc":true}]}},
    "y":{"datum":208.8,"type":"quantitative","scale":{"domain":[94.9,273.6],"nice":false,"zero":false},"axis":null}}},
  {"data":{"values":[{}]},"mark":{"type":"text","align":"center","baseline":"middle","fontSize":9.5,"color":"#777777","font":"Liberation Sans","text":"INR"},
   "encoding":{"x":{"datum":{"year":2021,"month":8,"date":27,"utc":true},"type":"temporal","title":null,"scale":{"type":"utc","domain":[{"year":2020,"month":4,"date":18,"utc":true},{"year":2021,"month":8,"date":18,"utc":true}]}},
    "y":{"datum":261,"type":"quantitative","scale":{"domain":[94.9,273.6],"nice":false,"zero":false},"axis":null}}}
 ]
},
{
 "width":948,"height":57,
 "layer":[
  {"data":{"values":[{}]},"mark":{"type":"rule","strokeDash":[3,3],"color":"#777777","strokeWidth":1},
   "encoding":{"y":{"datum":52,"type":"quantitative","scale":{"domain":[17.5,88.75],"nice":false,"zero":false},"axis":null}}},
  {"data":{"values":[{}]},"mark":{"type":"rule","strokeDash":[3,3],"color":"#777777","strokeWidth":1},
   "encoding":{"y":{"datum":48,"type":"quantitative","axis":null}}},
  {"data":{"name":"rsi"},"mark":{"type":"line","color":"#111111","strokeWidth":2.2},
   "encoding":{"x":{"field":"d","type":"temporal","title":null,"scale":{"type":"utc","domain":[{"year":2020,"month":4,"date":18,"utc":true},{"year":2021,"month":8,"date":18,"utc":true}]}},
    "y":{"field":"v","type":"quantitative","title":null,"scale":{"domain":[17.5,88.75],"nice":false,"zero":false},"axis":{"orient":"right","values":[40,80],"format":".2f"}}}},
  {"data":{"values":[{}]},"mark":{"type":"text","align":"left","baseline":"alphabetic","fontSize":10,"color":"#7a7a7a","font":"Roboto, sans-serif","text":"RSI"},
   "encoding":{"x":{"datum":{"year":2020,"month":4,"date":18,"hours":2,"utc":true},"type":"temporal","title":null},
    "y":{"datum":68.4,"type":"quantitative","axis":null}}},
  {"data":{"values":[{}]},"mark":{"type":"text","align":"center","baseline":"alphabetic","fontSize":10.5,"fontWeight":"bold","color":"#222222","font":"Roboto, sans-serif","text":"Positive above 52"},
   "encoding":{"x":{"datum":{"year":2021,"month":7,"date":8,"utc":true},"type":"temporal","title":null},
    "y":{"datum":61.25,"type":"quantitative","axis":null}}}
 ]
},
{
 "width":948,"height":43,
 "layer":[
  {"data":{"values":[{}]},"mark":{"type":"rect","color":"#f3f5f7"},
   "encoding":{"x":{"datum":{"year":2020,"month":4,"date":18,"utc":true},"type":"temporal","title":null,"scale":{"type":"utc","domain":[{"year":2020,"month":4,"date":18,"utc":true},{"year":2021,"month":8,"date":18,"utc":true}]}},
    "x2":{"datum":{"year":2021,"month":8,"date":18,"utc":true}},
    "y":{"datum":38.2,"type":"quantitative","scale":{"domain":[35.9,65.5],"nice":false,"zero":false},"axis":null},
    "y2":{"datum":61.8}}},
  {"data":{"values":[{}]},"mark":{"type":"rule","strokeDash":[3,3],"color":"#777777","strokeWidth":1},
   "encoding":{"y":{"datum":61.8,"type":"quantitative","axis":null}}},
  {"data":{"values":[{}]},"mark":{"type":"rule","strokeDash":[3,3],"color":"#777777","strokeWidth":1},
   "encoding":{"y":{"datum":38.2,"type":"quantitative","axis":null}}},
  {"data":{"name":"chop"},"mark":{"type":"line","color":"#111111","strokeWidth":2.2},
   "encoding":{"x":{"field":"d","type":"temporal","title":null},
    "y":{"field":"v","type":"quantitative","title":null,"axis":{"orient":"right","values":[40,60],"format":".2f"}}}},
  {"data":{"values":[{}]},"mark":{"type":"text","align":"left","baseline":"alphabetic","fontSize":10,"color":"#7a7a7a","font":"Roboto, sans-serif","text":"CHOP"},
   "encoding":{"x":{"datum":{"year":2020,"month":4,"date":18,"hours":2,"utc":true},"type":"temporal","title":null},
    "y":{"datum":53.6,"type":"quantitative","axis":null}}},
  {"data":{"values":[{}]},"mark":{"type":"text","align":"center","baseline":"alphabetic","fontSize":10.5,"fontWeight":"bold","color":"#222222","font":"Roboto, sans-serif","text":"Less Volatility Expected"},
   "encoding":{"x":{"datum":{"year":2021,"month":7,"date":16,"utc":true},"type":"temporal","title":null},
    "y":{"datum":46.9,"type":"quantitative","axis":null}}}
 ]
},
{
 "width":948,"height":46,
 "layer":[
  {"data":{"name":"bars"},"mark":{"type":"bar","size":1.2},
   "encoding":{"x":{"field":"d","type":"temporal","title":null,"scale":{"type":"utc","domain":[{"year":2020,"month":4,"date":18,"utc":true},{"year":2021,"month":8,"date":18,"utc":true}]}},
    "y":{"field":"m","type":"quantitative","title":null,"scale":{"domain":[-6.4,12],"nice":false},"axis":{"orient":"right","values":[0],"format":".1f"}},
    "color":{"condition":{"test":"datum.m >= 0","value":"#2b8a3e"},"value":"#e53935"}}},
  {"data":{"name":"sig"},"mark":{"type":"line","color":"#ef5350","strokeWidth":1,"interpolate":"monotone"},
   "encoding":{"x":{"field":"d","type":"temporal","title":null},"y":{"field":"v","type":"quantitative","title":null}}},
  {"data":{"name":"macd"},"mark":{"type":"line","color":"#111111","strokeWidth":1.8,"interpolate":"monotone"},
   "encoding":{"x":{"field":"d","type":"temporal","title":null},"y":{"field":"v","type":"quantitative","title":null}}},
  {"data":{"values":[{}]},"mark":{"type":"text","align":"left","baseline":"alphabetic","fontSize":10,"color":"#7a7a7a","font":"Roboto, sans-serif","text":"MACD"},
   "encoding":{"x":{"datum":{"year":2020,"month":4,"date":18,"hours":2,"utc":true},"type":"temporal","title":null},
    "y":{"datum":4.9,"type":"quantitative"}}},
  {"data":{"values":[{}]},"mark":{"type":"text","align":"center","baseline":"alphabetic","fontSize":10.5,"fontWeight":"bold","color":"#222222","font":"Roboto, sans-serif","text":"Negative"},
   "encoding":{"x":{"datum":{"year":2021,"month":7,"date":1,"utc":true},"type":"temporal","title":null},
    "y":{"datum":1.6,"type":"quantitative"}}}
 ]
},
{
 "width":948,"height":53,
 "layer":[
  {"data":{"values":[{}]},"mark":{"type":"rule","color":"#9e9e9e","strokeWidth":1},
   "encoding":{"x":{"datum":{"year":2020,"month":4,"date":20,"utc":true},"type":"temporal","title":null,"scale":{"type":"utc","domain":[{"year":2020,"month":4,"date":18,"utc":true},{"year":2021,"month":8,"date":18,"utc":true}]},
     "axis":{"labels":true,"ticks":true,"tickSize":5,"domainWidth":1.5,"labelFontSize":11,"labelColor":"#666666","labelPadding":2,
      "values":[{"year":2020,"month":6,"date":1,"utc":true},{"year":2020,"month":7,"date":1,"utc":true},{"year":2020,"month":8,"date":1,"utc":true},{"year":2020,"month":9,"date":1,"utc":true},{"year":2020,"month":10,"date":1,"utc":true},{"year":2020,"month":11,"date":1,"utc":true},{"year":2020,"month":12,"date":1,"utc":true},{"year":2021,"month":1,"date":1,"utc":true},{"year":2021,"month":3,"date":1,"utc":true},{"year":2021,"month":4,"date":1,"utc":true},{"year":2021,"month":5,"date":1,"utc":true},{"year":2021,"month":6,"date":1,"utc":true},{"year":2021,"month":7,"date":1,"utc":true},{"year":2021,"month":8,"date":1,"utc":true}],
      "labelExpr":"utcFormat(datum.value, '%m') == '01' ? utcFormat(datum.value, '%Y') : utcFormat(datum.value, '%b')"}},
    "x2":{"datum":{"year":2021,"month":5,"date":12,"utc":true}},
    "y":{"datum":75,"type":"quantitative","scale":{"domain":[-11.9,114.3],"nice":false,"zero":false},"axis":null}}},
  {"data":{"values":[{}]},"mark":{"type":"rule","color":"#9e9e9e","strokeWidth":1},
   "encoding":{"x":{"datum":{"year":2020,"month":4,"date":20,"utc":true},"type":"temporal","title":null},
    "x2":{"datum":{"year":2021,"month":5,"date":12,"utc":true}},
    "y":{"datum":25,"type":"quantitative","axis":null}}},
  {"data":{"name":"stc"},"mark":{"type":"line","strokeWidth":2.2,"interpolate":"monotone"},
   "encoding":{"x":{"field":"d","type":"temporal","title":null},
    "y":{"field":"v","type":"quantitative","title":null,"axis":{"orient":"right","values":[0,100],"format":".1f"}},
    "detail":{"field":"s"},
    "color":{"field":"dir","type":"nominal","legend":null,"scale":{"domain":["up","down"],"range":["#1b7d2b","#e53935"]}}}},
  {"data":{"values":[{}]},"mark":{"type":"text","align":"left","baseline":"alphabetic","fontSize":10,"color":"#7a7a7a","font":"Roboto, sans-serif","text":"STC"},
   "encoding":{"x":{"datum":{"year":2020,"month":4,"date":18,"hours":2,"utc":true},"type":"temporal","title":null},
    "y":{"datum":72,"type":"quantitative"}}},
  {"data":{"values":[{}]},"mark":{"type":"text","align":"center","baseline":"alphabetic","fontSize":10.5,"fontWeight":"bold","color":"#222222","font":"Roboto, sans-serif","text":"Positive"},
   "encoding":{"x":{"datum":{"year":2021,"month":7,"date":2,"utc":true},"type":"temporal","title":null},
    "y":{"datum":45.2,"type":"quantitative"}}}
 ]
}
]
}
